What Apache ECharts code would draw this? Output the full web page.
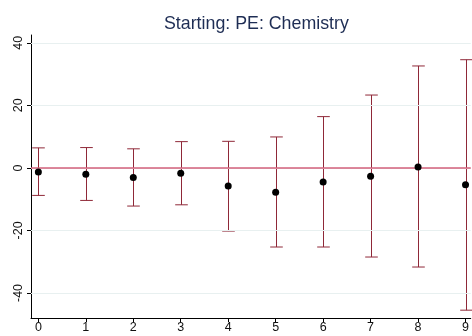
<!DOCTYPE html>
<html>
<head>
<meta charset="utf-8">
<script src="https://cdn.jsdelivr.net/npm/echarts@6/dist/echarts.min.js"></script>
<style>html,body{margin:0;padding:0;background:#fff}#c{width:472px;height:336px}</style>
</head>
<body>
<div id="c"></div>
<script>
var categories = [0, 1, 2, 3, 4, 5, 6, 7, 8, 9];
var estimates = [-1.3, -2.0, -3.1, -1.7, -5.8, -7.8, -4.5, -2.7, 0.3, -5.4];
var upperCI = [6.4, 6.5, 6.1, 8.4, 8.5, 9.9, 16.4, 23.3, 32.6, 34.6];
var lowerCI = [-8.8, -10.4, -12.2, -11.8, -20.2, -25.3, -25.3, -28.5, -31.7, -45.5];
var yTicks = [-40, -20, 0, 20, 40];
var titleText = 'Starting: PE: Chemistry';

var font = 'Liberation Sans, Arial, sans-serif';
var barColor = '#8f2838';

var chart = echarts.init(document.getElementById('c'), null, {renderer: 'canvas'});
chart.setOption({
  animation: false,
  title: {
    text: titleText, left: 159, top: 10,
    textStyle: {fontFamily: font, fontSize: 17.8, fontWeight: 'normal', color: '#1e2d54'}
  },
  grid: {left: 31, right: 0, top: 35, bottom: 18, containLabel: false},
  xAxis: {
    type: 'value', min: -0.155, max: 9.11,
    axisLine: {show: true, onZero: false, lineStyle: {color: '#000', width: 1}},
    axisTick: {show: true, length: 4, lineStyle: {color: '#000'}, customValues: categories},
    axisLabel: {show: true, customValues: categories, margin: 3, fontFamily: font, fontSize: 12.5, color: '#111'},
    splitLine: {show: false}
  },
  yAxis: {
    type: 'value', min: -48, max: 42.5,
    axisLine: {show: true, onZero: false, lineStyle: {color: '#000', width: 1}},
    axisTick: {show: true, length: 4, lineStyle: {color: '#000'}, customValues: yTicks},
    axisLabel: {show: true, customValues: yTicks, rotate: 90, margin: 6, fontFamily: font, fontSize: 12.5, color: '#111'},
    splitLine: {show: false}
  },
  series: [
    {
      type: 'line', data: [], silent: true,
      markLine: {
        symbol: 'none', silent: true, label: {show: false},
        lineStyle: {color: '#e8f0f0', width: 1, type: 'solid'},
        data: yTicks.map(function (v) { return {yAxis: v}; })
      }
    },
    {
      type: 'line', data: [], silent: true, z: 3,
      markLine: {
        symbol: 'none', silent: true, label: {show: false},
        lineStyle: {color: '#d3607b', width: 1.6, type: 'solid'},
        data: [{yAxis: 0}]
      }
    },
    {
      type: 'custom', z: 4,
      data: categories.map(function (c, i) { return [c, lowerCI[i], upperCI[i]]; }),
      renderItem: function (params, api) {
        var x = api.value(0);
        var lo = api.coord([x, api.value(1)]);
        var hi = api.coord([x, api.value(2)]);
        var hw = 6.3;
        var px = Math.round(lo[0]) + 0.5;
        var st = {stroke: barColor, lineWidth: 1};
        return {
          type: 'group',
          children: [
            {type: 'line', shape: {x1: px, y1: lo[1], x2: px, y2: hi[1]}, style: st},
            {type: 'line', shape: {x1: px - hw, y1: hi[1], x2: px + hw, y2: hi[1]}, style: st},
            {type: 'line', shape: {x1: px - hw, y1: lo[1], x2: px + hw, y2: lo[1]}, style: st}
          ]
        };
      }
    },
    {
      type: 'scatter', z: 5, symbol: 'circle', symbolSize: 7,
      itemStyle: {color: '#000', opacity: 1},
      data: categories.map(function (c, i) { return [c, estimates[i]]; })
    }
  ]
});
</script>
</body>
</html>
